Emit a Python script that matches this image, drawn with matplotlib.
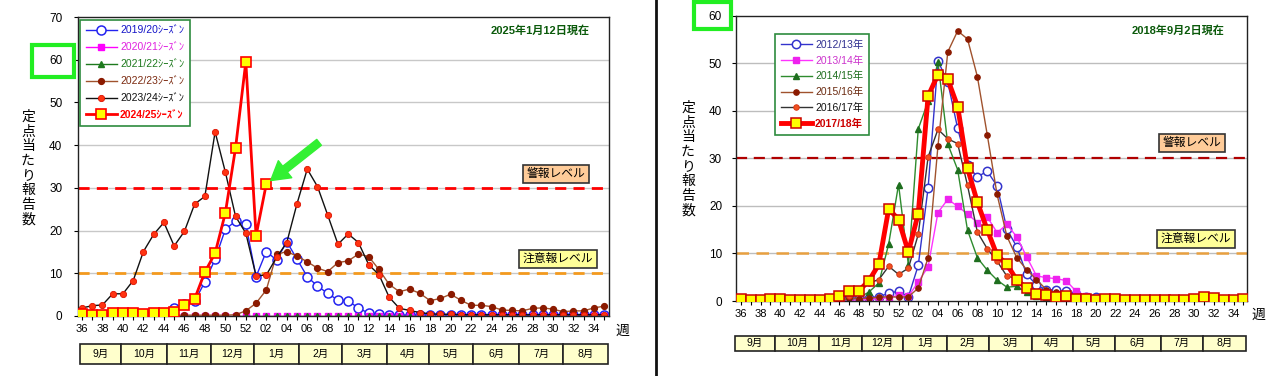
import matplotlib
matplotlib.use('Agg')
import matplotlib.pyplot as plt
from matplotlib.patches import Rectangle

plt.rcParams['font.family'] = ['Liberation Sans', 'Noto Sans CJK JP']

# ---------------- data ----------------
weeks = list(range(36, 53)) + list(range(1, 36))
month_labels = ['9月', '10月', '11月', '12月', '1月', '2月', '3月', '4月', '5月', '6月', '7月', '8月']
month_edges_left = [-0.2, 3.8, 8.3, 12.6, 16.8, 21.2, 25.4, 29.8, 33.9, 38.2, 42.7, 47.0, 51.4]
month_edges_right = [-0.6, 3.45, 7.95, 12.25, 16.47, 20.9, 25.2, 29.5, 33.7, 38.0, 42.6, 46.9, 51.3]

# Left chart (2025-01-12)
left_labels = ['2019/20ｼｰｽﾞﾝ', '2020/21ｼｰｽﾞﾝ', '2021/22ｼｰｽﾞﾝ', '2022/23ｼｰｽﾞﾝ', '2023/24ｼｰｽﾞﾝ', '2024/25ｼｰｽﾞﾝ']
s2019_20 = [0.3, 0.3, 0.3, 0.4, 0.4, 0.5, 0.5, 0.6, 0.8, 1.8, 2.7, 3.4, 8.0, 13.3, 20.3, 22.2, 21.5,
            9.2, 15.1, 13.1, 17.4, 13.3, 9.2, 7.0, 5.3, 3.7, 3.6, 1.8, 0.7, 0.4, 0.2, 0.2, 0.2, 0.2, 0.2,
            0.2, 0.2, 0.2, 0.2, 0.2, 0.2, 0.2, 0.2, 0.2, 0.2, 0.2, 0.2, 0.2, 0.2, 0.2, 0.2, 0.2]
s2020_21 = [0.1, 0.1, 0.1, 0.1, 0.1, 0.1, 0.1, 0.1, 0.1, 0.1, 0.1, 0.1, 0.1, 0.1, 0.1, 0.1, 0.1,
            0.1, 0.1, 0.1, 0.1, 0.1, 0.1, 0.1, 0.1, 0.1, 0.1, 0.1, 0.1, 0.1, 0.1, 0.1, 0.1, 0.1, 0.1,
            0.1, 0.1, 0.1, 0.1, 0.1, 0.1, 0.1, 0.1, 0.1, 0.1, 0.1, 0.1, 0.1, 0.1, 0.1, 0.1, 0.1]
s2021_22 = [0.05, 0.05, 0.05, 0.05, 0.05, 0.05, 0.05, 0.05, 0.05, 0.05, 0.05, 0.05, 0.05, 0.05, 0.05, 0.05, 0.05,
            0.05, 0.05, 0.05, 0.05, 0.05, 0.05, 0.05, 0.05, 0.05, 0.05, 0.05, 0.05, 0.05, 0.05, 0.05, 0.05, 0.05, 0.05,
            0.05, 0.05, 0.05, 0.05, 0.05, 0.05, 0.05, 0.05, 0.05, 0.05, 0.05, 0.05, 0.05, 0.05, 0.05, 0.05, 0.05]
s2022_23 = [0.2, 0.2, 0.2, 0.2, 0.2, 0.2, 0.2, 0.2, 0.2, 0.2, 0.2, 0.2, 0.2, 0.2, 0.2, 0.3, 1.2,
            3.0, 6.1, 14.4, 15.1, 14.0, 12.7, 11.2, 10.4, 12.5, 12.9, 14.5, 13.9, 10.9, 7.4, 5.7, 6.3, 5.3, 3.6,
            4.1, 5.1, 3.7, 2.5, 2.5, 2.2, 1.4, 1.3, 1.2, 1.8, 1.9, 1.6, 1.0, 1.2, 1.2, 1.9, 2.3]
s2023_24 = [1.9, 2.4, 2.6, 5.2, 5.2, 8.3, 15.1, 19.1, 21.9, 16.4, 19.8, 26.2, 28.0, 43.1, 33.7, 23.3, 19.4,
            9.4, 9.6, 13.7, 17.2, 26.3, 34.4, 30.3, 23.6, 16.8, 19.2, 17.2, 12.0, 9.7, 4.4, 1.8, 1.3, 0.8, 0.5,
            0.4, 0.4, 0.3, 0.3, 0.3, 0.3, 0.3, 0.3, 0.3, 0.3, 0.3, 0.3, 0.3, 0.3, 0.3, 0.3, 0.3]
s2024_25 = [0.4, 0.3, 0.3, 0.6, 0.7, 0.7, 0.5, 0.6, 0.8, 1.0, 2.6, 4.0, 10.3, 14.7, 24.1, 39.4, 59.5,
            18.8, 30.9]

# Right chart (2018-09-02)
right_labels = ['2012/13年', '2013/14年', '2014/15年', '2015/16年', '2016/17年', '2017/18年']
r2012_13 = [0.3, 0.3, 0.3, 0.3, 0.3, 0.3, 0.3, 0.3, 0.3, 0.4, 0.5, 0.6, 0.6, 0.7, 0.9, 1.6, 2.1,
            0.9, 7.5, 23.8, 50.5, 46.0, 36.3, 28.5, 26.1, 27.3, 24.2, 15.1, 11.4, 5.6, 3.4, 2.3, 2.3, 2.0, 1.4,
            0.9, 0.9, 0.3, 0.3, 0.3, 0.3, 0.3, 0.3, 0.3, 0.3, 0.3, 0.3, 0.3, 0.3, 0.3, 0.3, 0.3]
r2013_14 = [0.2, 0.2, 0.2, 0.2, 0.2, 0.2, 0.2, 0.2, 0.2, 0.2, 0.2, 0.2, 0.2, 0.3, 0.5, 0.7, 1.2,
            1.0, 4.0, 7.2, 18.6, 21.4, 19.9, 18.3, 16.5, 17.7, 14.4, 16.1, 13.5, 9.3, 5.3, 4.9, 4.7, 4.3, 2.1,
            1.1, 0.6, 0.3, 0.3, 0.3, 0.3, 0.3, 0.3, 0.3, 0.3, 0.3, 0.3, 0.3, 0.3, 0.3, 0.3, 0.3]
r2014_15 = [0.3, 0.3, 0.3, 0.3, 0.3, 0.3, 0.3, 0.3, 0.3, 0.3, 0.3, 0.3, 0.7, 1.9, 3.8, 12.0, 24.5,
            7.5, 36.2, 42.0, 50.2, 33.0, 27.6, 14.9, 9.1, 6.5, 4.4, 2.9, 3.1, 1.8, 1.0, 0.6, 0.3, 0.3, 0.3,
            0.3, 0.3, 0.3, 0.3, 0.3, 0.3, 0.3, 0.3, 0.3, 0.3, 0.3, 0.3, 0.3, 0.3, 0.3, 0.3, 0.3]
r2015_16 = [0.2, 0.2, 0.2, 0.2, 0.2, 0.2, 0.2, 0.2, 0.2, 0.2, 0.2, 0.6, 0.5, 0.6, 0.8, 0.9, 0.8,
            0.9, 2.7, 9.1, 32.6, 52.4, 56.8, 55.1, 47.2, 35.0, 22.4, 13.6, 9.1, 6.6, 4.5, 2.4, 1.8, 1.5, 0.8,
            0.5, 0.3, 0.3, 0.3, 0.3, 0.3, 0.3, 0.3, 0.3, 0.3, 0.3, 0.3, 0.3, 0.3, 0.3, 0.3, 0.3]
r2016_17 = [0.3, 0.3, 0.3, 0.3, 0.3, 0.3, 0.3, 0.3, 0.3, 0.3, 0.8, 1.0, 2.5, 3.8, 4.5, 7.3, 5.6,
            6.9, 14.0, 30.3, 36.1, 34.1, 33.1, 24.3, 14.5, 11.0, 8.4, 5.2, 4.8, 3.0, 1.8, 1.3, 0.9, 0.7, 0.4,
            0.4, 0.4, 0.4, 0.4, 0.4, 0.4, 0.4, 0.4, 0.4, 0.4, 0.4, 0.4, 0.4, 0.4, 0.4, 0.4, 0.4]
r2017_18 = [0.4, 0.3, 0.3, 0.5, 0.4, 0.2, 0.3, 0.2, 0.3, 0.5, 1.0, 2.2, 2.2, 4.3, 7.7, 19.4, 17.1,
            10.3, 18.4, 43.1, 47.6, 46.6, 40.9, 27.9, 20.8, 15.0, 9.6, 7.7, 4.4, 2.7, 1.5, 1.3, 0.8, 1.0, 0.35,
            0.4, 0.2, 0.4, 0.35, 0.3, 0.3, 0.3, 0.3, 0.3, 0.3, 0.3, 0.4, 0.8, 0.6, 0.25, 0.3, 0.4]

alert_level = 30
caution_level = 10

# ---------------- figure ----------------
W, H = 1280, 376
fig = plt.figure(figsize=(W / 100, H / 100), dpi=100)
fig.patch.set_facecolor('white')
CJK = ['Noto Sans CJK JP', 'DejaVu Sans']


def fr(x0, y0, x1, y1):
    return [x0 / W, 1 - y1 / H, (x1 - x0) / W, (y1 - y0) / H]


def fx(x):
    return x / W


def fy(y):
    return 1 - y / H


idx = list(range(len(weeks)))
tick_labels = [f'{w:02d}' if i % 2 == 0 else '' for i, w in enumerate(weeks)]


def style_axes(ax, ymax, xlim, grid_color, ypad):
    ax.set_xlim(*xlim)
    ax.set_ylim(0, ymax)
    ax.set_yticks(range(0, ymax + 1, 10))
    ax.set_xticks(idx)
    ax.set_xticklabels(tick_labels, fontsize=8)
    ax.tick_params(axis='x', length=3, width=0.8, pad=3, direction='out')
    ax.tick_params(axis='y', length=3, width=0.8, pad=ypad, labelsize=8.5)
    for v in range(10, ymax, 10):
        ax.axhline(v, color=grid_color, lw=1.0, zorder=0)
    for s in ax.spines.values():
        s.set_color('#222222')
        s.set_linewidth(1.0)


def month_table(rect, edges, xlim):
    t = fig.add_axes(rect)
    t.set_xlim(*xlim)
    t.set_ylim(0, 1)
    t.axis('off')
    for i, lab in enumerate(month_labels):
        t.add_patch(Rectangle((edges[i], 0), edges[i + 1] - edges[i], 1, fc='#FFFFCC',
                              ec='#222222', lw=1.2, clip_on=False))
        t.text((edges[i] + edges[i + 1]) / 2, 0.5, lab, ha='center', va='center', fontsize=7.5)
    return t


def vlabel(x, y, s):
    n = len(s)
    pitch = 14.6
    for k, ch in enumerate(s):
        fig.text(fx(x), fy(y + (k - (n - 1) / 2) * pitch), ch, ha='center', va='center',
                 fontsize=10, family=CJK)


# ---------- left chart ----------
xlimL = (-0.42, 51.5)
axL = fig.add_axes(fr(77.7, 17, 609.3, 316))
style_axes(axL, 70, xlimL, '#C8C8C8', 8)
axL.axhline(alert_level, color='#FF0000', lw=2, ls=(0, (4, 2.6)), zorder=1)
axL.axhline(caution_level, color='#F39A1E', lw=2, ls=(0, (4, 2.6)), zorder=1)

hL = []
hL += axL.plot(idx, s2019_20, color='#2323F0', lw=1, marker='o', ms=6.5, mfc='white', mec='#2323F0', mew=1.1)
hL += axL.plot(idx, s2020_21, color='#FF00FF', lw=1, marker='s', ms=4, mfc='#FF00FF', mec='#FF00FF')
hL += axL.plot(idx, s2021_22, color='#1E7A1E', lw=1, marker='^', ms=4, mfc='#1E7A1E', mec='#1E7A1E')
hL += axL.plot(idx, s2022_23, color='#A0522D', lw=1, marker='o', ms=4.2, mfc='#8B1A00', mec='#8B1A00')
hL += axL.plot(idx, s2023_24, color='#111111', lw=1, marker='o', ms=4.5, mfc='#FF3311', mec='#DD1100', mew=0.6)
hL += axL.plot(idx[:len(s2024_25)], s2024_25, color='#FF0000', lw=2, marker='s', ms=7.5, mfc='#FFFF00',
               mec='#FF0000', mew=1.2, zorder=5)

legL = axL.legend(hL, left_labels, loc='upper left', bbox_to_anchor=(fx(80), fy(20)),
                  bbox_transform=fig.transFigure, fontsize=7.5, frameon=True, fancybox=False,
                  edgecolor='#2E8B3E', framealpha=1, borderpad=0.55, labelspacing=0.66,
                  handlelength=3.0, handletextpad=0.3, borderaxespad=0)
legL.get_frame().set_linewidth(1.2)
for t, c in zip(legL.get_texts(), ['#1515C8', '#E020E0', '#1E7A1E', '#7B2A10', '#111111', '#FF0000']):
    t.set_color(c)
legL.get_texts()[-1].set_fontweight('bold')

fig.text(fx(540), fy(31), '2025年1月12日現在', ha='center', va='center', fontsize=8,
         fontweight='bold', color='#0B5A0B')
fig.text(fx(556), fy(174), '警報レベル', ha='center', va='center', fontsize=8.5,
         bbox=dict(boxstyle='square,pad=0.28', fc='#FFCC99', ec='#333333', lw=1.2))
fig.text(fx(558), fy(259), '注意報レベル', ha='center', va='center', fontsize=8.5,
         bbox=dict(boxstyle='square,pad=0.28', fc='#FFFF99', ec='#333333', lw=1.2))
vlabel(28, 168, '定点当たり報告数')
fig.text(fx(622), fy(331), '週', ha='center', va='center', fontsize=10, family=CJK)
month_table(fr(77.7, 344.3, 609.3, 364.3), month_edges_left, xlimL)

# green annotation arrow and highlight
axL.annotate('', xy=(idx[len(s2024_25) - 1], s2024_25[-1]), xycoords='data',
             xytext=(38, 30), textcoords='offset points',
             arrowprops=dict(arrowstyle='simple,head_width=1.3,head_length=1.1,tail_width=0.45',
                             mutation_scale=12, fc='#33F033', ec='#33F033', shrinkA=0, shrinkB=4),
             zorder=10)
fig.add_artist(Rectangle((fx(32), fy(77)), (74 - 32) / W, (77 - 45) / H, transform=fig.transFigure,
                         fill=False, ec='#22EE22', lw=3))

# ---------- right chart ----------
xlimR = (-0.5, 51.4)
axR = fig.add_axes(fr(736, 15.7, 1247.3, 301))
style_axes(axR, 60, xlimR, '#BDBDBD', 7)
axR.axhline(alert_level, color='#B00000', lw=1.6, ls=(0, (5, 3)), zorder=1)
axR.axhline(caution_level, color='#E8A040', lw=1.8, ls=(0, (5, 3)), zorder=1)

hR = []
hR += axR.plot(idx, r2012_13, color='#3333CC', lw=1, marker='o', ms=6, mfc='white', mec='#3333CC', mew=1.1)
hR += axR.plot(idx, r2013_14, color='#FF33FF', lw=1, marker='s', ms=4.5, mfc='#EE22EE', mec='#EE22EE')
hR += axR.plot(idx, r2014_15, color='#2E8B2E', lw=1, marker='^', ms=4.5, mfc='#1E6E1E', mec='#1E6E1E')
hR += axR.plot(idx, r2015_16, color='#A0522D', lw=1, marker='o', ms=3.8, mfc='#8B1A00', mec='#8B1A00')
hR += axR.plot(idx, r2016_17, color='#333333', lw=1, marker='o', ms=4, mfc='#F05020', mec='#D03010', mew=0.6)
hR += axR.plot(idx, r2017_18, color='#FF0000', lw=3.5, marker='s', ms=7, mfc='#FFFF00', mec='#CC0000',
               mew=1.1, zorder=5)

legR = axR.legend(hR, right_labels, loc='upper left', bbox_to_anchor=(fx(775), fy(34)),
                  bbox_transform=fig.transFigure, fontsize=7.5, frameon=True, fancybox=False,
                  edgecolor='#2E8B3E', framealpha=1, borderpad=0.55, labelspacing=0.55,
                  handlelength=3.0, handletextpad=0.3, borderaxespad=0)
legR.get_frame().set_linewidth(1.2)
for t, c in zip(legR.get_texts(), ['#303090', '#CC33CC', '#1E6E1E', '#6B2A10', '#111111', '#CC0000']):
    t.set_color(c)
legR.get_texts()[-1].set_fontweight('bold')

fig.text(fx(1178), fy(31), '2018年9月2日現在', ha='center', va='center', fontsize=8,
         fontweight='bold', color='#0B5A0B')
fig.text(fx(1192), fy(143), '警報レベル', ha='center', va='center', fontsize=8.5,
         bbox=dict(boxstyle='square,pad=0.28', fc='#FFCC99', ec='#333333', lw=1.2))
fig.text(fx(1196), fy(239), '注意報レベル', ha='center', va='center', fontsize=8.5,
         bbox=dict(boxstyle='square,pad=0.28', fc='#FFFF99', ec='#333333', lw=1.2))
vlabel(688, 159, '定点当たり報告数')
fig.text(fx(1258), fy(315), '週', ha='center', va='center', fontsize=10, family=CJK)
month_table(fr(736, 335.7, 1247.3, 351), month_edges_right, xlimR)

fig.add_artist(Rectangle((fx(694), fy(29)), (731 - 694) / W, (29 - 2) / H, transform=fig.transFigure,
                         fill=False, ec='#22EE22', lw=3))

# separator between the two panels
fig.add_artist(plt.Line2D([fx(656), fx(656)], [0, 1], transform=fig.transFigure, color='#111111', lw=2))

fig.savefig('out.png', dpi=100)
